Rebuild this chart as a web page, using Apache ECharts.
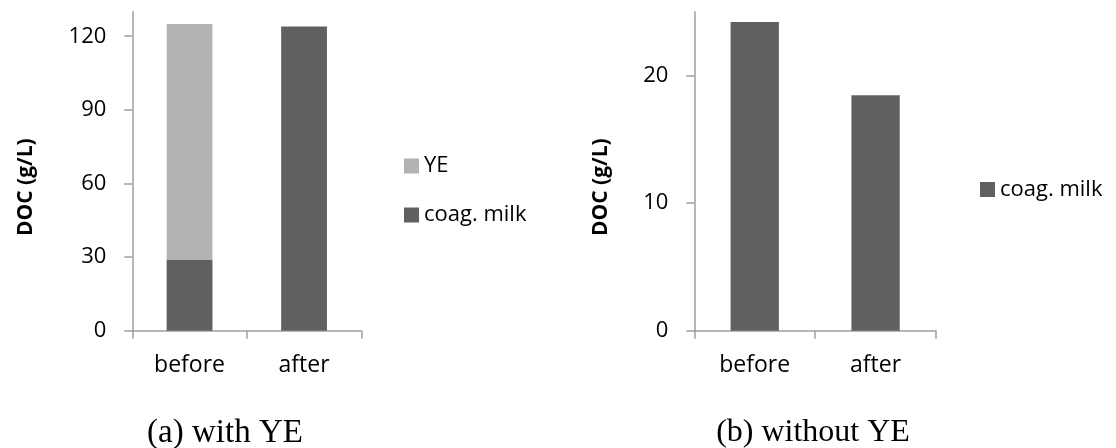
<!DOCTYPE html>
<html>
<head>
<meta charset="utf-8">
<script src="https://cdn.jsdelivr.net/npm/echarts@6/dist/echarts.min.js"></script>
<style>html,body{margin:0;padding:0;background:#fff}#c{width:1116px;height:448px}</style>
</head>
<body>
<div id="c"></div>
<script>
// Data
const categories = ['before', 'after'];
// Panel (a) with YE
const coagMilkA = [29, 124];
const yeA = [96, null];
const ticksA = [0, 30, 60, 90, 120];
// Panel (b) without YE
const coagMilkB = [24.2, 18.45];
const ticksB = [0, 10, 20];
const titles = ['(a) with YE', '(b) without YE'];
const yName = 'DOC (g/L)';

const DARK = '#606060', LIGHT = '#b3b3b3', AXIS = '#9e9e9e';
const FONT = 'Open Sans';

function yAxis(idx, max, ticks, gap) {
  return {
    type: 'value', gridIndex: idx, min: 0, max: max,
    name: yName, nameLocation: 'middle', nameGap: gap,
    nameTextStyle: {fontFamily: FONT, fontWeight: 'bold', fontSize: 21, color: '#000', padding: [0, 32, 0, 0]},
    axisLine: {show: true, lineStyle: {color: AXIS, width: 1.5}},
    axisTick: {show: true, length: 8, customValues: ticks, lineStyle: {color: AXIS, width: 1.5}},
    axisLabel: {customValues: ticks, margin: 26, fontFamily: FONT, fontSize: 22, color: '#000'},
    splitLine: {show: false}
  };
}
function xAxis(idx) {
  return {
    type: 'category', gridIndex: idx, data: categories,
    axisLine: {lineStyle: {color: AXIS, width: 1.5}},
    axisTick: {show: true, length: 8, lineStyle: {color: AXIS, width: 1.5}},
    axisLabel: {margin: 23, fontFamily: FONT, fontSize: 23, color: '#000'}
  };
}

const chart = echarts.init(document.getElementById('c'), null, {renderer: 'canvas'});
chart.setOption({
  animation: false,
  backgroundColor: '#fff',
  title: [
    {text: titles[0], left: 225, top: 417, textAlign: 'center', padding: 0,
     textStyle: {fontFamily: 'Liberation Serif', fontWeight: 'normal', fontSize: 33, color: '#000'}},
    {text: titles[1], left: 813, top: 417, textAlign: 'center', padding: 0,
     textStyle: {fontFamily: 'Liberation Serif', fontWeight: 'normal', fontSize: 32, color: '#000'}}
  ],
  grid: [
    {left: 132.3, right: 754.7, top: 11.7, bottom: 117.3},
    {left: 694.3, right: 180, top: 11.7, bottom: 117.3}
  ],
  xAxis: [xAxis(0), xAxis(1)],
  yAxis: [yAxis(0, 130, ticksA, 96), yAxis(1, 25, ticksB, 83)],
  legend: [
    {orient: 'vertical', left: 404, top: 155, itemWidth: 15, itemHeight: 15, itemGap: 27, icon: 'rect', padding: 0,
     data: ['YE', 'coag. milk'],
     textStyle: {fontFamily: FONT, fontSize: 22, color: '#000', lineHeight: 22}},
    {orient: 'vertical', left: 980, top: 178.5, itemWidth: 15, itemHeight: 15, icon: 'rect', padding: 0,
     data: [{name: 'coag. milk '}],
     formatter: function (n) { return n.trim(); },
     textStyle: {fontFamily: FONT, fontSize: 22, color: '#000', lineHeight: 22}}
  ],
  series: [
    {name: 'coag. milk', type: 'bar', stack: 'a', xAxisIndex: 0, yAxisIndex: 0, data: coagMilkA,
     barCategoryGap: '60%', itemStyle: {color: DARK}},
    {name: 'YE', type: 'bar', stack: 'a', xAxisIndex: 0, yAxisIndex: 0, data: yeA,
     barCategoryGap: '60%', itemStyle: {color: LIGHT}},
    {name: 'coag. milk ', type: 'bar', xAxisIndex: 1, yAxisIndex: 1, data: coagMilkB,
     barCategoryGap: '60%', itemStyle: {color: DARK}}
  ]
});
</script>
</body>
</html>
